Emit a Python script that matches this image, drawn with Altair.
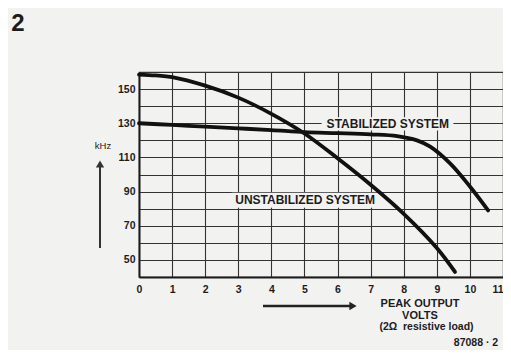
import altair as alt
import pandas as pd

# ---- data ----
volts_unstab = [0, 0.5, 1, 2, 3, 4, 5, 6, 7, 8, 9, 9.55]
khz_unstab = [158.5, 158, 157, 152, 145, 135.5, 124, 109.5, 94, 77, 57, 43]
volts_stab = [0, 1, 2, 3, 4, 5, 6, 7, 7.8, 8.4, 8.8, 9.4, 10, 10.55]
khz_stab = [130, 129, 128, 127, 126, 124.8, 124.2, 123.5, 122.5, 120, 116.3, 106.5, 93, 79]

x_ticks = list(range(0, 12))
y_grid = list(range(40, 161, 10))

curve_names = ["STABILIZED SYSTEM", "UNSTABILIZED SYSTEM"]
curve_label_x = [7.52, 5.02]
curve_label_y = [129.6, 84.8]
box_x1 = [5.52, 2.8]
box_x2 = [9.5, 7.3]
box_y1 = [125.8, 80.6]
box_y2 = [133.5, 89.3]

BG = "#f2f2f1"
INK = "#1c1c1c"

curves = pd.concat([
    pd.DataFrame({"x": volts_stab, "y": khz_stab, "series": "stabilized"}),
    pd.DataFrame({"x": volts_unstab, "y": khz_unstab, "series": "unstabilized"}),
])
labels = pd.DataFrame({"x": curve_label_x, "y": curve_label_y, "text": curve_names,
                       "x1": box_x1, "x2": box_x2, "y1": box_y1, "y2": box_y2})
one = pd.DataFrame({"a": [0]})

xscale = alt.Scale(domain=[0, 11], nice=False, zero=False)
yscale = alt.Scale(domain=[40, 160], nice=False, zero=False)

xaxis = alt.Axis(values=x_ticks, grid=True, ticks=False, title=None,
                 labelFont="Liberation Sans", labelFontWeight="bold", labelFontSize=10.5,
                 labelColor=INK, labelPadding=7, domainWidth=2, domainColor=INK,
                 gridColor="#333333", gridWidth=1.1, gridOpacity=1,
                 labelAlign=alt.ExprRef("datum.value == 11 ? 'right' : 'center'"))
yaxis = alt.Axis(values=y_grid, grid=True, ticks=False, title=None,
                 labelExpr="datum.value % 20 == 10 ? datum.label : ''",
                 labelFont="Liberation Sans", labelFontWeight="bold", labelFontSize=10.5,
                 labelColor=INK, labelPadding=4, domainWidth=2, domainColor=INK,
                 gridColor="#333333", gridWidth=1.1, gridOpacity=1)

boxes = alt.Chart(labels).mark_rect(color=BG).encode(
    x=alt.X("x1:Q", scale=xscale, axis=xaxis), x2="x2:Q",
    y=alt.Y("y1:Q", scale=yscale, axis=yaxis), y2="y2:Q",
)

lines = alt.Chart(curves).mark_line(interpolate="catmull-rom", strokeWidth=3.8,
                                    color="#111111", strokeCap="round").encode(
    x=alt.X("x:Q", scale=xscale, axis=xaxis),
    y=alt.Y("y:Q", scale=yscale, axis=yaxis),
    detail="series:N",
)

texts = alt.Chart(labels).mark_text(font="Liberation Sans", fontWeight="bold",
                                    fontSize=12, color=INK, baseline="middle").encode(
    x=alt.X("x:Q", scale=xscale, axis=xaxis),
    y=alt.Y("y:Q", scale=yscale, axis=yaxis),
    text="text:N",
)


def note(txt, px, py, size=10.5, weight="bold", align="center"):
    return alt.Chart(one).mark_text(font="Liberation Sans", fontWeight=weight,
                                    fontSize=size, color=INK, align=align,
                                    baseline="middle").encode(
        x=alt.value(px), y=alt.value(py), text=alt.value(txt))


fig_no = note("2", -121, -48, size=24)
khz = note("kHz", -36, 74, size=9.5, weight="normal")
peak = note("PEAK OUTPUT", 281, 231.5, size=11)
volts = note("VOLTS", 281, 243.5, size=11)
load = note("(2Ω\u00a0\u00a0resistive load)", 287.5, 254.5, size=10.5)
code = note("87088 · 2", 337, 271, size=10.5)

v_arrow = alt.Chart(one).mark_rule(color="#333333", strokeWidth=2).encode(
    x=alt.value(-39), y=alt.value(176), y2=alt.value(93))
v_head = alt.Chart(one).mark_point(shape="triangle-up", filled=True, size=70,
                                   color="#333333", opacity=1).encode(
    x=alt.value(-39), y=alt.value(92))
h_arrow = alt.Chart(one).mark_rule(color="#222222", strokeWidth=2.5).encode(
    x=alt.value(124), x2=alt.value(214), y=alt.value(234))
h_head = alt.Chart(one).mark_point(shape="triangle-right", filled=True, size=70,
                                   color="#222222", opacity=1).encode(
    x=alt.value(214), y=alt.value(234))

chart = alt.layer(
    boxes, lines, texts, fig_no, khz, peak, volts, load, code,
    v_arrow, v_head, h_arrow, h_head,
).properties(
    width=364, height=205,
    autosize=alt.AutoSizeParams(type="none"),
    padding={"left": 131, "top": 64, "right": 0, "bottom": 73},
    background=BG,
).configure_view(stroke="#333333", strokeWidth=1.1)

chart.save("out.html", embed_options={"renderer": "svg", "actions": False})
